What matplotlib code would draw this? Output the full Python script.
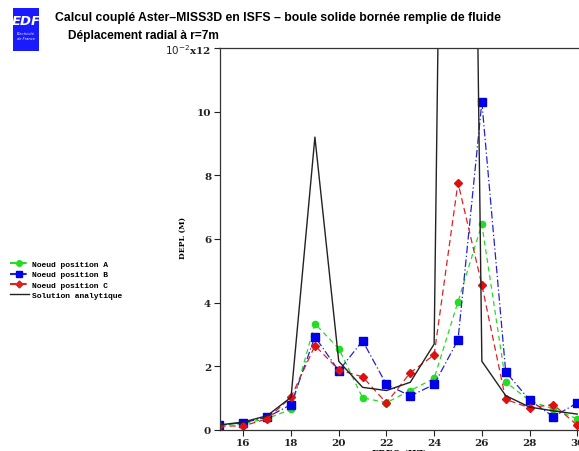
import matplotlib.pyplot as plt
from matplotlib.lines import Line2D

# fréquences (Hz)
freq = [15, 16, 17, 18, 19, 20, 21, 22, 23, 24, 25, 26, 27, 28, 29, 30]

# déplacement radial (x 1e-2 m)
depl_a = [0.15, 0.20, 0.36, 0.65, 3.34, 2.56, 1.01, 0.86, 1.24, 1.62, 4.03, 6.46, 1.51, 0.92, 0.66, 0.35]
depl_b = [0.15, 0.23, 0.40, 0.80, 2.93, 1.86, 2.80, 1.43, 1.07, 1.43, 2.83, 10.3, 1.83, 0.94, 0.42, 0.85]
depl_c = [0.12, 0.13, 0.35, 1.03, 2.65, 1.89, 1.67, 0.85, 1.80, 2.36, 7.77, 4.56, 0.96, 0.70, 0.80, 0.15]
depl_ana = [0.16, 0.25, 0.45, 1.03, 9.2, 2.16, 1.34, 1.24, 1.50, 2.70, 62.0, 2.16, 1.08, 0.72, 0.60, 0.50]

titre1 = "Calcul couplé Aster–MISS3D en ISFS – boule solide bornée remplie de fluide"
titre2 = "Déplacement radial à r=7m"

mono = "Liberation Mono"
serif = "DejaVu Serif"

fig = plt.figure(figsize=(5.79, 4.52), dpi=100)
ax = fig.add_axes([219.5 / 579, 1 - 431 / 452, 1 - 219.5 / 579, (431 - 49) / 452])

ax.plot(freq, depl_a, color="#22dd22", ls=(0, (4, 3)), lw=0.9, marker="o", ms=4.5, mec="#22dd22")
ax.plot(freq, depl_b, color="#2222cc", ls=(0, (6, 2, 1, 2)), lw=0.9, marker="s", ms=6, mec="#0000dd", mfc="#0000ee")
ax.plot(freq, depl_c, color="#dd2222", ls=(0, (5, 3)), lw=0.9, marker="D", ms=4, mec="#dd1111", mfc="#dd1111")
ax.plot(freq, depl_ana, color="#222222", lw=1.0)

ax.set_xlim(15, 15 + (579 - 219.5) / 23.85)
ax.set_ylim(0, 12)
ax.set_xticks([16, 18, 20, 22, 24, 26, 28, 30])
ax.set_xticklabels(["16", "18", "20", "22", "24", "26", "28", "30"])
ax.set_yticks([0, 2, 4, 6, 8, 10, 12])
ax.set_yticklabels(["0", "2", "4", "6", "8", "10", r"$10^{-2}$x12"])
ax.tick_params(direction="out", length=4, width=0.8, colors="#222222", pad=2)
for lab in ax.get_xticklabels() + ax.get_yticklabels():
    lab.set_fontfamily(serif)
    lab.set_fontweight("bold")
    lab.set_fontsize(7.5)
ax.spines["right"].set_visible(False)
for s in ["left", "top", "bottom"]:
    ax.spines[s].set_color("#333333")
    ax.spines[s].set_linewidth(0.9)

ax.set_xlabel("FREQ (HZ)", fontfamily=serif, fontweight="bold", fontsize=6.5, labelpad=1)
fig.text(183 / 579, 1 - 238 / 452, "DEPL (M)", rotation=90, ha="center", va="center",
         fontfamily=serif, fontweight="bold", fontsize=5.5)

# légende
handles = [
    Line2D([], [], color="#22dd22", ls=(0, (3, 2)), marker="o", ms=4),
    Line2D([], [], color="#2222cc", ls=(0, (3, 2)), marker="s", ms=5, mfc="#0000ee", mec="#0000ee"),
    Line2D([], [], color="#dd2222", ls=(0, (3, 2)), marker="D", ms=3.5),
    Line2D([], [], color="#222222", lw=1.0),
]
labels = ["Noeud position A", "Noeud position B", "Noeud position C", "Solution analytique"]
fig.legend(handles, labels, loc="upper left", bbox_to_anchor=(0.012, 1 - 258 / 452),
           frameon=False, prop={"family": mono, "weight": "bold", "size": 5.8},
           handlelength=2.3, handletextpad=0.4, labelspacing=0.35, borderaxespad=0)

# logo EDF
logo = fig.add_axes([13 / 579, 1 - 52 / 452, 26 / 579, 43 / 452])
logo.set_facecolor("#1a1aff")
logo.set_xticks([])
logo.set_yticks([])
for s in logo.spines.values():
    s.set_visible(False)
logo.text(0.5, 0.7, "EDF", color="white", fontsize=9.5, fontweight="bold", style="italic",
          ha="center", va="center", transform=logo.transAxes)
logo.text(0.5, 0.36, "Electricité\nde France", color="white", fontsize=2.6, style="italic",
          ha="center", va="center", transform=logo.transAxes, linespacing=1.1)

fig.text(55 / 579, 1 - 18 / 452, titre1, fontsize=8.8, fontweight="bold",
         fontfamily="Liberation Sans", va="center")
fig.text(68 / 579, 1 - 36 / 452, titre2, fontsize=8.6, fontweight="bold",
         fontfamily="Liberation Sans", va="center")

fig.savefig("out.png", dpi=100)
